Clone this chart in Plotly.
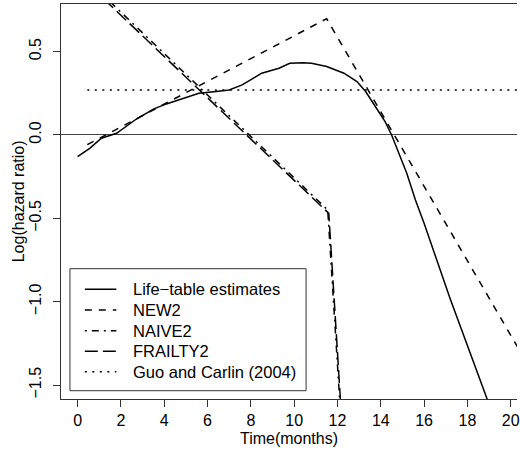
import plotly.graph_objects as go

# ---- data ----
life_months = [0.0, 0.56, 1.1, 1.8, 2.7, 3.5, 4.1, 4.7, 5.6, 6.4, 7.0, 7.6, 8.5, 9.3, 9.8,
               10.4, 10.8, 11.5, 12.3, 12.9, 13.3, 13.8, 14.2, 14.5, 15.2, 15.6, 16.0,
               17.2, 18.9, 19.1]
life_logHR = [-0.13, -0.08, -0.02, 0.01, 0.094, 0.155, 0.186, 0.21, 0.25, 0.26, 0.27, 0.30,
              0.37, 0.40, 0.43, 0.433, 0.43, 0.41, 0.37, 0.32, 0.26, 0.16, 0.08, 0.0,
              -0.23, -0.39, -0.53, -0.98, -1.58, -1.65]

new2_months = [0.45, 11.5, 20.4]
new2_logHR = [-0.058, 0.697, -1.29]

naive2_months = [0.0, 11.55, 12.2]
naive2_logHR = [0.985, -0.45, -1.79]

frailty2_months = [0.0, 11.6, 12.2]
frailty2_logHR = [0.965, -0.47, -1.72]

guo_months = [0.45, 20.4]
guo_logHR = [0.27, 0.27]

x_ticks = [0, 2, 4, 6, 8, 10, 12, 14, 16, 18, 20]
y_ticks = [-1.5, -1.0, -0.5, 0.0, 0.5]
y_ticktext = ["\u22121.5", "\u22121.0", "\u22120.5", "0.0", "0.5"]

names = ["Life\u2212table estimates", "NEW2", "NAIVE2", "FRAILTY2", "Guo and Carlin (2004)"]
dashes = ["solid", "7px,7px", "2px,5px,7px,5px", "13px,5px", "2px,5.5px"]

# ---- figure ----
LW = 1.5
FS = 16
axis_col = "#333333"
series = [(life_months, life_logHR), (new2_months, new2_logHR),
          (naive2_months, naive2_logHR), (frailty2_months, frailty2_logHR),
          (guo_months, guo_logHR)]

fig = go.Figure()
for (xs, ys), nm, ds in zip(series, names, dashes):
    fig.add_trace(go.Scatter(x=xs, y=ys, mode="lines", name=nm, showlegend=False,
                             line=dict(color="black", width=LW, dash=ds)))

# plot-area geometry in pixels (used to place the R-style legend box)
L, R, T, B = 61, 520, 4, 399
W, H = R - L, B - T
px = lambda v: (v - L) / W
py = lambda v: (B - v) / H

shapes = [dict(type="rect", xref="paper", yref="paper",
               x0=px(70), x1=px(307.7), y0=py(390.7), y1=py(268.7),
               line=dict(color=axis_col, width=1), fillcolor="white", layer="above")]
annotations = []
row_y = [289.3, 310.0, 330.7, 351.2, 371.7]
for tr, yy in zip(fig.data, row_y):
    shapes.append(dict(type="line", xref="paper", yref="paper",
                       x0=px(85), x1=px(116.7), y0=py(yy), y1=py(yy),
                       line=dict(color="black", width=LW, dash=tr.line.dash), layer="above"))
    annotations.append(dict(text=tr.name, xref="paper", yref="paper", x=px(131.7), y=py(yy),
                            xanchor="left", yanchor="middle", showarrow=False,
                            font=dict(size=FS + 0.5, color="black")))

# y-axis title placed like R's mtext (line 3)
annotations.append(dict(text="Log(hazard ratio)", xref="paper", yref="paper",
                        x=px(18.5), y=0.5, xanchor="center", yanchor="middle",
                        textangle=-90, showarrow=False, font=dict(size=FS, color="black")))

fig.update_layout(
    width=520, height=450,
    margin=dict(l=L, r=0, t=T, b=450 - B),
    paper_bgcolor="white", plot_bgcolor="white",
    font=dict(family="Liberation Sans, Arial, sans-serif", size=FS, color="black"),
    showlegend=False,
    shapes=shapes, annotations=annotations,
    xaxis=dict(range=[-0.766, 20.29], tickvals=x_ticks, ticks="outside", ticklen=7,
               tickcolor=axis_col, showline=True, linecolor=axis_col, linewidth=1,
               mirror=True, showgrid=False, zeroline=False, ticklabeloverflow="allow",
               tickfont=dict(size=FS),
               title=dict(text="Time(months)", standoff=4, font=dict(size=FS))),
    yaxis=dict(range=[-1.583, 0.785], tickvals=y_ticks, ticktext=y_ticktext, tickangle=-90,
               ticks="outside", ticklen=7, tickcolor=axis_col, showline=True,
               linecolor=axis_col, linewidth=1, mirror=False, showgrid=False,
               zeroline=True, zerolinecolor="#444444", zerolinewidth=1,
               tickfont=dict(size=FS), ticklabelstandoff=6),
)

fig.write_html("out.html")
